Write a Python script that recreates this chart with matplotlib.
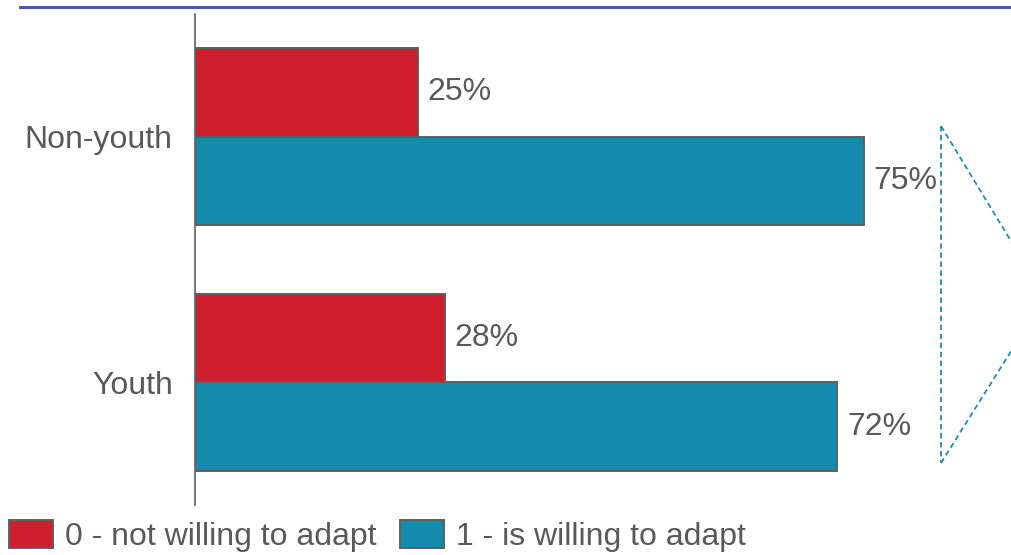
import matplotlib.pyplot as plt
from matplotlib.patches import Patch
from matplotlib.lines import Line2D
import numpy as np

plt.rcParams['font.family'] = ['Liberation Sans', 'DejaVu Sans']

# survey shares, percent
groups = ["Non-youth", "Youth"]
not_willing = [25, 28]
willing = [75, 72]
series_names = ["0 - not willing to adapt", "1 - is willing to adapt"]

red = "#cf1f2e"
blue = "#1389ab"
edge = "#5f5f5f"
grey_text = "#595959"

W, H = 1012, 555
fig = plt.figure(figsize=(W / 100, H / 100), dpi=100)

# axes spans x 195..1012 px, y 14..505 px
ax = fig.add_axes([195 / W, (H - 505) / H, (W - 195) / W, 491 / H])

pos = np.arange(len(groups))[::-1]   # Non-youth on top
bh = 0.361
ax.barh(pos + bh / 2, not_willing, height=bh, color=red, edgecolor=edge, linewidth=1.4)
ax.barh(pos - bh / 2, willing, height=bh, color=blue, edgecolor=edge, linewidth=1.4)

for p, v in zip(pos, not_willing):
    ax.annotate("%d%%" % v, (v, p + bh / 2), xytext=(7, 0), textcoords="offset points",
                va="center", ha="left", fontsize=23, color=grey_text)
for p, v in zip(pos, willing):
    ax.annotate("%d%%" % v, (v, p - bh / 2), xytext=(7, 0), textcoords="offset points",
                va="center", ha="left", fontsize=23, color=grey_text)

ax.set_xlim(0, 817 / 8.92)
ax.set_ylim(-0.5, 1.5)
ax.set_yticks(pos)
ax.set_yticklabels(groups, fontsize=23, color=grey_text)
ax.tick_params(axis="y", length=0, pad=16)
ax.set_xticks([])
for s in ["top", "right", "bottom"]:
    ax.spines[s].set_visible(False)
ax.spines["left"].set_color(edge)
ax.spines["left"].set_linewidth(1.2)
ax.patch.set_visible(False)

# header rule along the top
fig.add_artist(Line2D([20 / W, 1], [(H - 7) / H, (H - 7) / H], color="#4a5aa8", lw=2.2))

# dashed bracket on the right edge
dash = dict(color="#1a8fb3", lw=1.3, linestyle=(0, (3, 2)))
fig.add_artist(Line2D([941 / W, 941 / W], [(H - 126) / H, (H - 463) / H], **dash))
fig.add_artist(Line2D([941 / W, 1045 / W], [(H - 126) / H, (H - 297) / H], **dash))
fig.add_artist(Line2D([941 / W, 1045 / W], [(H - 463) / H, (H - 297) / H], **dash))

handles = [Patch(facecolor=red, edgecolor=edge, linewidth=1.4),
           Patch(facecolor=blue, edgecolor=edge, linewidth=1.4)]
fig.legend(handles, series_names, loc="center left", bbox_to_anchor=(9 / W, (H - 536) / H),
           ncol=2, frameon=False, fontsize=23, labelcolor=grey_text,
           handlelength=1.38, handleheight=0.97, handletextpad=0.38,
           columnspacing=0.72, borderpad=0, borderaxespad=0)

fig.savefig("out.png", dpi=100)
